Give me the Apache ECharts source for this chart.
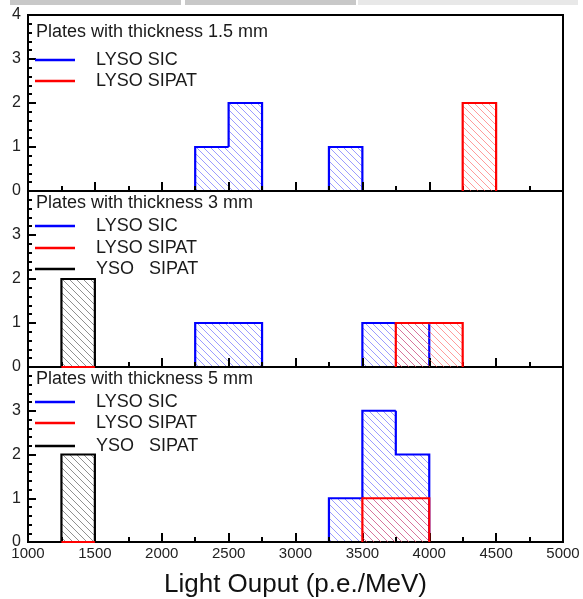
<!DOCTYPE html>
<html>
<head>
<meta charset="utf-8">
<script src="https://cdn.jsdelivr.net/npm/echarts@6/dist/echarts.min.js"></script>
<style>html,body{margin:0;padding:0;background:#fff;}#c{width:583px;height:599px;}</style>
</head>
<body>
<div id="c"></div>
<script>
// ---- data ----
const binWidth = 250;
const xTicks = [1000, 1500, 2000, 2500, 3000, 3500, 4000, 4500, 5000];
const panelTitles = ['Plates with thickness 1.5 mm', 'Plates with thickness 3 mm', 'Plates with thickness 5 mm'];
const legendNames = ['LYSO SIC', 'LYSO SIPAT', 'YSO   SIPAT'];
const xAxisTitle = 'Light Ouput (p.e./MeV)';

// panel 1 (1.5 mm)
const p1SicLow = [2250, 2500, 3250];
const p1SicCount = [1, 2, 1];
const p1SipatLow = [4250];
const p1SipatCount = [2];
// panel 2 (3 mm)
const p2SicLow = [2250, 2500, 3500, 3750];
const p2SicCount = [1, 1, 1, 1];
const p2SipatLow = [1250, 3750, 4000];
const p2SipatCount = [0, 1, 1];
const p2YsoLow = [1250];
const p2YsoCount = [2];
// panel 3 (5 mm)
const p3SicLow = [3250, 3500, 3750];
const p3SicCount = [1, 3, 2];
const p3SipatLow = [1250, 3500, 3750];
const p3SipatCount = [0, 1, 1];
const p3YsoLow = [1250];
const p3YsoCount = [2];

// ---- styles ----
function hatch(color) {
  const s = 7;
  const c = document.createElement('canvas');
  c.width = s; c.height = s;
  const g = c.getContext('2d');
  g.strokeStyle = color; g.lineWidth = 1;
  g.beginPath();
  g.moveTo(-1, -1); g.lineTo(s + 1, s + 1);
  g.moveTo(s - 1, -1); g.lineTo(s + 1, 1);
  g.moveTo(-1, s - 1); g.lineTo(1, s + 1);
  g.stroke();
  return { image: c, repeat: 'repeat' };
}
const colBlue = '#0000ff', colRed = '#ff0000', colBlack = '#000000';
const hBlue = hatch('rgba(90,90,255,0.6)');
const hRed = hatch('rgba(255,90,90,0.6)');
const hBlack = hatch('rgba(70,70,70,0.6)');

const panelTop = [15, 191, 367];
const panelH = 176;

function histSeries(name, lows, counts, panel, lineCol, fillPat) {
  return {
    type: 'custom', name: name,
    xAxisIndex: panel, yAxisIndex: panel,
    z: 1,
    encode: { x: [0, 1], y: 2 },
    data: lows.map((lo, i) => [lo, lo + binWidth, counts[i]]),
    renderItem: function (params, api) {
      const i = params.dataIndex;
      const lo = api.value(0), hi = api.value(1), n = api.value(2);
      const prev = (i > 0 && lows[i - 1] + binWidth === lo) ? counts[i - 1] : 0;
      const nextAdj = (i < lows.length - 1 && lows[i + 1] === hi);
      const a = api.coord([lo, 0]);
      const b = api.coord([hi, n]);
      const yp = api.coord([lo, prev])[1];
      const children = [];
      if (n > 0) {
        children.push({ type: 'rect', shape: { x: a[0], y: b[1], width: b[0] - a[0], height: a[1] - b[1] }, style: { fill: fillPat }, z2: 0 });
      }
      const pts = [[a[0], yp], [a[0], b[1]], [b[0], b[1]]];
      if (!nextAdj) pts.push([b[0], a[1]]);
      children.push({ type: 'polyline', shape: { points: pts }, style: { stroke: lineCol, lineWidth: 2.2, fill: null }, z2: 1 });
      return { type: 'group', children: children };
    }
  };
}

const grids = [], xAxes = [], yAxes = [];
for (let p = 0; p < 3; p++) {
  grids.push({ left: 28, right: 20, top: panelTop[p], height: panelH, show: true, borderColor: '#000', borderWidth: 2, containLabel: false });
  xAxes.push({
    type: 'value', gridIndex: p, min: 1000, max: 5000, interval: 500, z: 5,
    axisLine: { show: true, lineStyle: { color: '#000', width: 2 } },
    axisTick: { show: true, inside: true, length: 9, lineStyle: { color: '#000', width: 2 } },
    minorTick: { show: true, splitNumber: 2, length: 5, lineStyle: { color: '#000', width: 2 } },
    splitLine: { show: false },
    axisLabel: { show: p === 2, color: '#222', fontSize: 15, fontFamily: 'Liberation Sans', margin: 4, showMinLabel: true, showMaxLabel: true, formatter: (v) => String(v) },
    name: p === 2 ? xAxisTitle : '', nameLocation: 'middle', nameGap: 30,
    nameTextStyle: { fontSize: 26, color: '#111', fontFamily: 'Liberation Sans' }
  });
  yAxes.push({
    type: 'value', gridIndex: p, min: 0, max: 4, interval: 1, z: 5,
    axisLine: { show: true, lineStyle: { color: '#000', width: 2 } },
    axisTick: { show: true, inside: true, length: 8, lineStyle: { color: '#000', width: 2 } },
    minorTick: { show: true, splitNumber: 5, length: 4, lineStyle: { color: '#000', width: 2 } },
    splitLine: { show: false },
    axisLabel: {
      color: '#222', fontSize: 16, fontFamily: 'Liberation Sans', margin: 7, showMinLabel: true, showMaxLabel: true,
      formatter: (v) => (p > 0 && v === 4) ? '' : String(v)
    }
  });
}

const series = [
  histSeries(legendNames[0], p1SicLow, p1SicCount, 0, colBlue, hBlue),
  histSeries(legendNames[1], p1SipatLow, p1SipatCount, 0, colRed, hRed),
  histSeries(legendNames[2], p2YsoLow, p2YsoCount, 1, colBlack, hBlack),
  histSeries(legendNames[0], p2SicLow, p2SicCount, 1, colBlue, hBlue),
  histSeries(legendNames[1], p2SipatLow, p2SipatCount, 1, colRed, hRed),
  histSeries(legendNames[2], p3YsoLow, p3YsoCount, 2, colBlack, hBlack),
  histSeries(legendNames[0], p3SicLow, p3SicCount, 2, colBlue, hBlue),
  histSeries(legendNames[1], p3SipatLow, p3SipatCount, 2, colRed, hRed)
];
// red zero-level segments must stay above the axis line
series.forEach(s => { if (s.name === legendNames[1]) s.z = 6; });

// legends (drawn as graphic)
const titleY = [32, 203, 379];
const legendY = [[60, 81], [226, 248, 269], [402, 423, 446]];
const legendCols = [colBlue, colRed, colBlack];
const graphic = [
  { type: 'rect', shape: { x: 10, y: 0, width: 171, height: 5 }, style: { fill: '#c8c8c8' }, silent: true },
  { type: 'rect', shape: { x: 185, y: 0, width: 171, height: 5 }, style: { fill: '#c8c8c8' }, silent: true },
  { type: 'rect', shape: { x: 358, y: 0, width: 220, height: 5 }, style: { fill: '#e8e8e8' }, silent: true }
];
for (let p = 0; p < 3; p++) {
  graphic.push({ type: 'text', x: 36, y: titleY[p], style: { text: panelTitles[p], fontSize: 18, fontFamily: 'Liberation Sans', fill: '#1a1a1a', verticalAlign: 'middle' }, z: 10 });
  legendY[p].forEach((y, k) => {
    graphic.push({ type: 'line', shape: { x1: 35, y1: y, x2: 75, y2: y }, style: { stroke: legendCols[k], lineWidth: 2.5 }, z: 10 });
    graphic.push({ type: 'text', x: 96, y: y, style: { text: legendNames[k], fontSize: 18, fontFamily: 'Liberation Sans', fill: '#1a1a1a', verticalAlign: 'middle' }, z: 10 });
  });
}

const chart = echarts.init(document.getElementById('c'), null, { renderer: 'canvas' });
chart.setOption({
  animation: false,
  backgroundColor: '#fff',
  grid: grids, xAxis: xAxes, yAxis: yAxes,
  series: series,
  graphic: graphic
});
</script>
</body>
</html>
